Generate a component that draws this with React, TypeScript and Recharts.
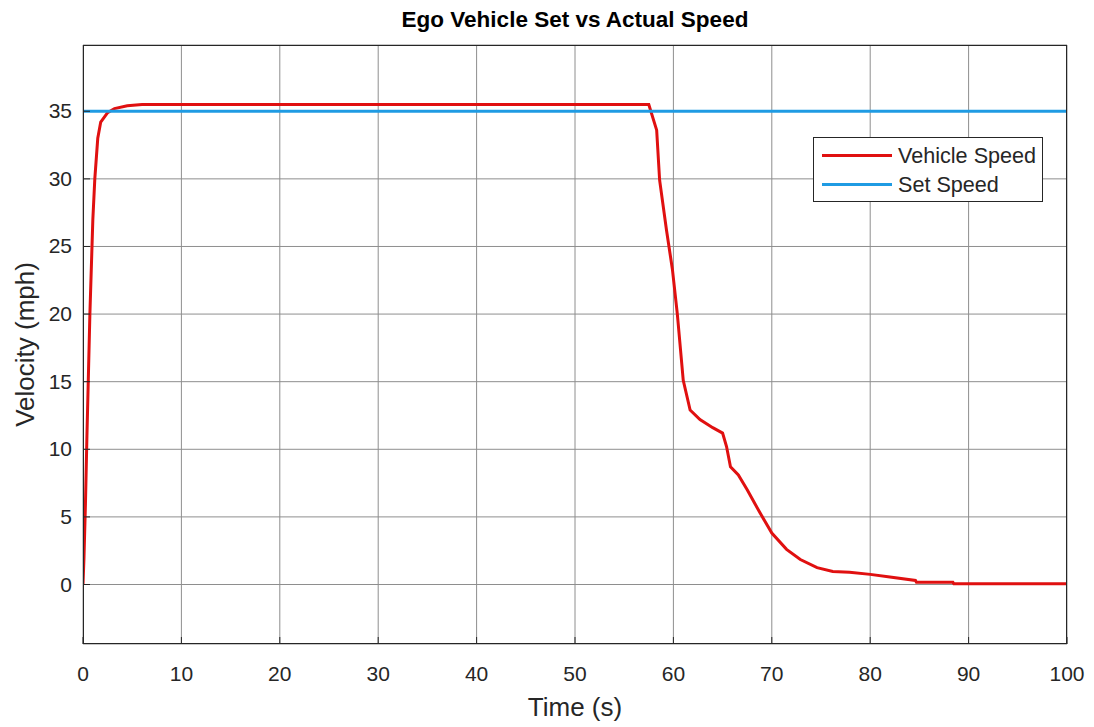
import { LineChart, Line, XAxis, YAxis, CartesianGrid } from "recharts";

// time (s) and measured ego vehicle speed (mph)
const time = [
  0, 0.1, 0.25, 0.4, 0.7, 1.0, 1.2, 1.5, 1.8, 2.5, 3.2, 4.5, 6,
  57.5, 58.3, 58.6, 59.3, 59.9, 60.4, 61, 61.7, 62.7, 64, 65, 65.4, 65.8,
  66.6, 67.5, 68.8, 70, 71.5, 72.9, 74.6, 76.2, 77.9, 80, 82, 84.6, 84.7,
  88.4, 88.5, 100,
];
const vehicleSpeed = [
  0, 2, 6, 11, 20, 27, 30, 33, 34.2, 34.9, 35.2, 35.4, 35.5,
  35.5, 33.6, 29.9, 26.2, 23.3, 20, 15.1, 12.9, 12.2, 11.6, 11.2, 10.2, 8.7,
  8.1, 7, 5.3, 3.8, 2.6, 1.85, 1.25, 0.96, 0.9, 0.75, 0.55, 0.3, 0.17,
  0.17, 0.05, 0.05,
];
const setTime = [0, 100];
const setSpeed = [35, 35];

const xTicks = [0, 10, 20, 30, 40, 50, 60, 70, 80, 90, 100];
const yTicks = [0, 5, 10, 15, 20, 25, 30, 35];

const vehicleData = time.map((t, i) => ({ t, v: vehicleSpeed[i] }));
const setData = setTime.map((t, i) => ({ t, v: setSpeed[i] }));

const W = 1094;
const H = 727;
const PLOT = { left: 83, top: 45, right: 1067, bottom: 644 };
const FONT = "'Liberation Sans', Arial, Helvetica, sans-serif";
const TEXT = "#262626";
const RED = "#e01010";
const BLUE = "#1f9be3";

const legendItems = [
  { name: "Vehicle Speed", color: RED },
  { name: "Set Speed", color: BLUE },
];

const XTick = (props: any) => {
  const { x, y, payload } = props;
  return (
    <g>
      <line x1={x} x2={x} y1={PLOT.bottom} y2={PLOT.bottom - 7} stroke={TEXT} />
      <text x={x} y={y} dy={23} textAnchor="middle" fill={TEXT} fontSize={21} fontFamily={FONT}>
        {payload.value}
      </text>
    </g>
  );
};

const YTick = (props: any) => {
  const { x, y, payload } = props;
  return (
    <g>
      <line x1={PLOT.left} x2={PLOT.left + 7} y1={y} y2={y} stroke={TEXT} />
      <text x={x} y={y} dy={7} textAnchor="end" fill={TEXT} fontSize={21} fontFamily={FONT}>
        {payload.value}
      </text>
    </g>
  );
};

export default function App() {
  return (
    <div style={{ position: "absolute", left: 0, top: 0, width: W, height: H, background: "#fff" }}>
      <div
        style={{
          position: "absolute",
          left: PLOT.left,
          width: PLOT.right - PLOT.left,
          top: 7,
          textAlign: "center",
          fontFamily: FONT,
          fontWeight: "bold",
          fontSize: 22.5,
          lineHeight: "26px",
          color: "#000",
        }}
      >
        Ego Vehicle Set vs Actual Speed
      </div>
      <LineChart
        width={W}
        height={H}
        margin={{ top: PLOT.top, right: W - PLOT.right, bottom: 0, left: 0 }}
      >
        <CartesianGrid stroke="#8e8e8e" strokeWidth={1} />
        <XAxis
          type="number"
          dataKey="t"
          domain={[0, 100]}
          ticks={xTicks}
          allowDataOverflow
          height={H - PLOT.bottom}
          tickLine={false}
          axisLine={false}
          tickSize={0}
          tickMargin={14}
          tick={<XTick />}
          label={{
            value: "Time (s)",
            position: "insideBottom",
            offset: 11,
            fill: TEXT,
            fontSize: 26,
            fontFamily: FONT,
          }}
        />
        <YAxis
          type="number"
          domain={[-4.4, 39.9]}
          ticks={yTicks}
          allowDataOverflow
          width={PLOT.left}
          tickLine={false}
          axisLine={false}
          tickSize={0}
          tickMargin={11}
          tick={<YTick />}
          label={{
            value: "Velocity (mph)",
            angle: -90,
            position: "insideLeft",
            offset: 25,
            fill: TEXT,
            fontSize: 26,
            fontFamily: FONT,
            style: { textAnchor: "middle" },
          }}
        />
        <Line
          data={vehicleData}
          dataKey="v"
          name="Vehicle Speed"
          type="linear"
          stroke={RED}
          strokeWidth={3}
          dot={false}
          isAnimationActive={false}
        />
        <Line
          data={setData}
          dataKey="v"
          name="Set Speed"
          type="linear"
          stroke={BLUE}
          strokeWidth={3}
          dot={false}
          isAnimationActive={false}
        />
      </LineChart>
      <div
        style={{
          position: "absolute",
          left: PLOT.left,
          top: PLOT.top,
          width: PLOT.right - PLOT.left,
          height: PLOT.bottom - PLOT.top,
          border: "1px solid #262626",
          boxSizing: "border-box",
          pointerEvents: "none",
          marginLeft: -0.5,
          marginTop: -0.5,
        }}
      />
      <div
        style={{
          position: "absolute",
          left: 813,
          top: 137,
          width: 230,
          height: 65,
          boxSizing: "border-box",
          border: "1px solid #262626",
          background: "#fff",
          fontFamily: FONT,
          fontSize: 21.6,
          color: TEXT,
          padding: "3px 0 0 8px",
        }}
      >
        {legendItems.map((item) => (
          <div key={item.name} style={{ display: "flex", alignItems: "center", height: 29 }}>
            <div style={{ width: 70, height: 3, background: item.color, marginRight: 6 }} />
            <span style={{ lineHeight: "29px", whiteSpace: "nowrap" }}>{item.name}</span>
          </div>
        ))}
      </div>
    </div>
  );
}
